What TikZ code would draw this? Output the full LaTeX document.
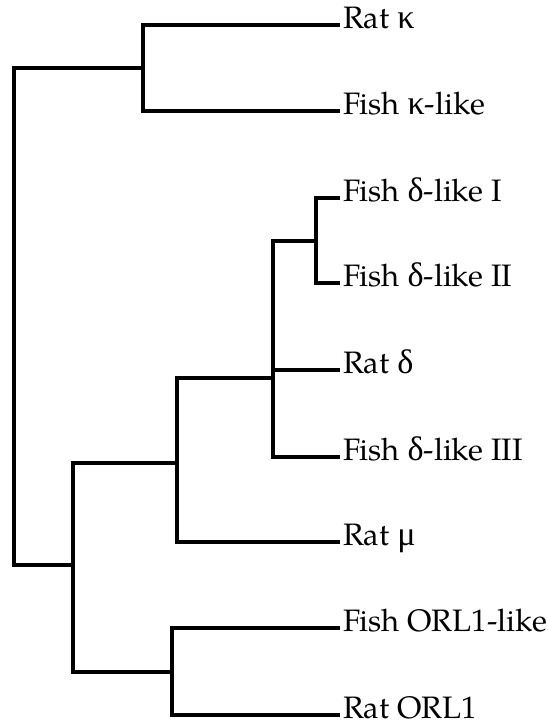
\documentclass[tikz,border=0pt]{standalone}
\usepackage{fontspec}
\setmainfont{TeX Gyre Pagella}
\newfontfamily\grkfont[Scale=1.1]{Liberation Serif}
\newcommand{\gk}[1]{{\grkfont #1}}
\begin{document}
\begin{tikzpicture}[x=1pt,y=-1pt,
  branch/.style={line width=4.2pt,line join=miter,line cap=butt},
  leaf/.style={anchor=west,inner sep=0pt,text height=0.69em,text depth=0pt,
    font=\fontsize{31}{37}\selectfont}]
\useasboundingbox (0,0) rectangle (547,727);
% leaves (west anchor = branch tip)
\node[leaf] (rk)  at (340,25)  {\hspace{3pt}Rat \gk{κ}};
\node[leaf] (fk)  at (340,111) {\hspace{3pt}Fish \gk{κ}-like};
\node[leaf] (fd1) at (340,198) {\hspace{3pt}Fish \gk{δ}-like I};
\node[leaf] (fd2) at (340,283) {\hspace{3pt}Fish \gk{δ}-like II};
\node[leaf] (rd)  at (340,370) {\hspace{3pt}Rat \gk{δ}};
\node[leaf] (fd3) at (340,457) {\hspace{3pt}Fish \gk{δ}-like III};
\node[leaf] (rm)  at (340,542) {\hspace{3pt}Rat \gk{μ}};
\node[leaf] (fo)  at (340,628) {\hspace{3pt}Fish ORL1-like};
\node[leaf] (ro)  at (340,715) {\hspace{3pt}Rat ORL1};
% internal nodes
\coordinate (root) at (14,300);
\coordinate (K) at (143,68);
\coordinate (L) at (73,565);
\coordinate (A) at (177,463);
\coordinate (B) at (273,378);
\coordinate (C) at (316,241);
\coordinate (D) at (172,672);
% branches
\draw[branch] (rk.west) -| (K) |- (fk.west);
\draw[branch] (fd1.west) -| (C) |- (fd2.west);
\draw[branch] (C) -| (B) |- (fd3.west);
\draw[branch] (B) |- (rd.west);
\draw[branch] (B) -| (A) |- (rm.west);
\draw[branch] (fo.west) -| (D) |- (ro.west);
\draw[branch] (A) -| (L) |- (D);
\draw[branch] (K) -| (root) |- (L);
\end{tikzpicture}
\end{document}
